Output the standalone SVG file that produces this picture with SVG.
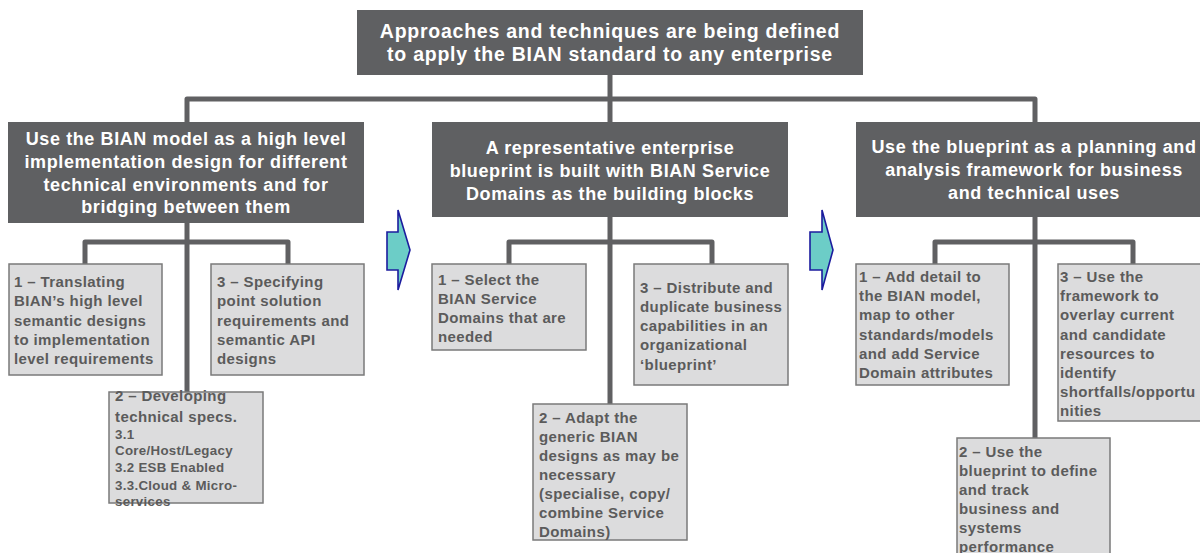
<svg xmlns="http://www.w3.org/2000/svg" width="1200" height="553" viewBox="0 0 1200 553">
<style>
.hd{fill:#5f6062}
.ht{font-family:"Liberation Sans",Arial,sans-serif;font-weight:bold;font-size:18px;letter-spacing:0.6px;fill:#ffffff;text-anchor:middle}
.tt{font-size:19.5px;letter-spacing:0.75px}
.cb{fill:#dcdcdd;stroke:#7a7a7a;stroke-width:1.5}
.ct{font-family:"Liberation Sans",Arial,sans-serif;font-weight:bold;font-size:15px;letter-spacing:0.4px;fill:#5b5b5b}
.cs{font-size:13.3px;letter-spacing:0.3px}
.cn{fill:none;stroke:#606062;stroke-width:5;stroke-linejoin:round}
.ar{fill:#6ccdc7;stroke:#1c1c9e;stroke-width:1.6;stroke-linejoin:miter}
</style>
<rect width="1200" height="553" fill="#ffffff"/>
<g id="connectors">
<path class="cn" d="M610,75 V122"/>
<path class="cn" d="M187,122 V99 H1035 V122"/>
<path class="cn" d="M187,223 V392"/>
<path class="cn" d="M85,264 V242 H288 V264"/>
<path class="cn" d="M610,217 V404"/>
<path class="cn" d="M509,264 V242 H712 V264"/>
<path class="cn" d="M1035,217 V438"/>
<path class="cn" d="M935,264 V242 H1133 V264"/>
</g>
<g id="arrows">
<polygon class="ar" points="387,232 398,232 398,210 410,250 398,290 398,270 387,270"/>
<polygon class="ar" points="810,232 822,232 822,210 833,250 822,290 822,270 810,270"/>
</g>
<g id="root">
<rect class="hd" x="357" y="10" width="506" height="65"/>
<text class="ht tt" x="610" y="38">Approaches and techniques are being defined</text>
<text class="ht tt" x="610" y="61">to apply the BIAN standard to any enterprise</text>
</g>
<g id="h1">
<rect class="hd" x="8" y="122" width="356" height="101"/>
<text class="ht" x="186" y="145">Use the BIAN model as a high level</text>
<text class="ht" x="186" y="168">implementation design for different</text>
<text class="ht" x="186" y="191">technical environments and for</text>
<text class="ht" x="186" y="213">bridging between them</text>
</g>
<g id="h2">
<rect class="hd" x="432" y="122" width="356" height="95"/>
<text class="ht" x="610" y="154">A representative enterprise</text>
<text class="ht" x="610" y="177">blueprint is built with BIAN Service</text>
<text class="ht" x="610" y="200">Domains as the building blocks</text>
</g>
<g id="h3">
<rect class="hd" x="856" y="122" width="356" height="95"/>
<text class="ht" x="1034" y="153">Use the blueprint as a planning and</text>
<text class="ht" x="1034" y="176">analysis framework for business</text>
<text class="ht" x="1034" y="199">and technical uses</text>
</g>
<g id="c1-1">
<rect class="cb" x="9" y="264" width="153" height="111"/>
<text class="ct" x="14" y="287">1 – Translating</text>
<text class="ct" x="14" y="306">BIAN’s high level</text>
<text class="ct" x="14" y="326">semantic designs</text>
<text class="ct" x="14" y="345">to implementation</text>
<text class="ct" x="14" y="364">level requirements</text>
</g>
<g id="c1-3">
<rect class="cb" x="211" y="264" width="153" height="111"/>
<text class="ct" x="217" y="287">3 – Specifying</text>
<text class="ct" x="217" y="306">point solution</text>
<text class="ct" x="217" y="326">requirements and</text>
<text class="ct" x="217" y="345">semantic API</text>
<text class="ct" x="217" y="364">designs</text>
</g>
<g id="c1-2">
<rect class="cb" x="109" y="392" width="154" height="111"/>
<text class="ct" x="115" y="401">2 – Developing</text>
<text class="ct" x="115" y="422">technical specs.</text>
<text class="ct cs" x="115" y="439">3.1</text>
<text class="ct cs" x="115" y="455">Core/Host/Legacy</text>
<text class="ct cs" x="115" y="472">3.2 ESB Enabled</text>
<text class="ct cs" x="115" y="490">3.3.Cloud &amp; Micro-</text>
<text class="ct cs" x="115" y="506">services</text>
</g>
<g id="c2-1">
<rect class="cb" x="432" y="264" width="154" height="86"/>
<text class="ct" x="438" y="285">1 – Select the</text>
<text class="ct" x="438" y="304">BIAN Service</text>
<text class="ct" x="438" y="323">Domains that are</text>
<text class="ct" x="438" y="342">needed</text>
</g>
<g id="c2-3">
<rect class="cb" x="634" y="264" width="154" height="121"/>
<text class="ct" x="640" y="293">3 – Distribute and</text>
<text class="ct" x="640" y="312">duplicate business</text>
<text class="ct" x="640" y="331">capabilities in an</text>
<text class="ct" x="640" y="350">organizational</text>
<text class="ct" x="640" y="370">‘blueprint’</text>
</g>
<g id="c2-2">
<rect class="cb" x="533" y="404" width="154" height="136"/>
<text class="ct" x="539" y="423">2 – Adapt the</text>
<text class="ct" x="539" y="442">generic BIAN</text>
<text class="ct" x="539" y="461">designs as may be</text>
<text class="ct" x="539" y="480">necessary</text>
<text class="ct" x="539" y="499">(specialise, copy/</text>
<text class="ct" x="539" y="518">combine Service</text>
<text class="ct" x="539" y="537">Domains)</text>
</g>
<g id="c3-1">
<rect class="cb" x="856" y="264" width="153" height="121"/>
<text class="ct" x="859" y="282">1 – Add detail to</text>
<text class="ct" x="859" y="301">the BIAN model,</text>
<text class="ct" x="859" y="320">map to other</text>
<text class="ct" x="859" y="340">standards/models</text>
<text class="ct" x="859" y="359">and add Service</text>
<text class="ct" x="859" y="378">Domain attributes</text>
</g>
<g id="c3-3">
<rect class="cb" x="1058" y="264" width="154" height="157"/>
<text class="ct" x="1060" y="282">3 – Use the</text>
<text class="ct" x="1060" y="301">framework to</text>
<text class="ct" x="1060" y="320">overlay current</text>
<text class="ct" x="1060" y="340">and candidate</text>
<text class="ct" x="1060" y="359">resources to</text>
<text class="ct" x="1060" y="378">identify</text>
<text class="ct" x="1060" y="397">shortfalls/opportu</text>
<text class="ct" x="1060" y="416">nities</text>
</g>
<g id="c3-2">
<rect class="cb" x="957" y="438" width="153" height="130"/>
<text class="ct" x="959" y="457">2 – Use the</text>
<text class="ct" x="959" y="476">blueprint to define</text>
<text class="ct" x="959" y="495">and track</text>
<text class="ct" x="959" y="514">business and</text>
<text class="ct" x="959" y="533">systems</text>
<text class="ct" x="959" y="552">performance</text>
</g>
</svg>
